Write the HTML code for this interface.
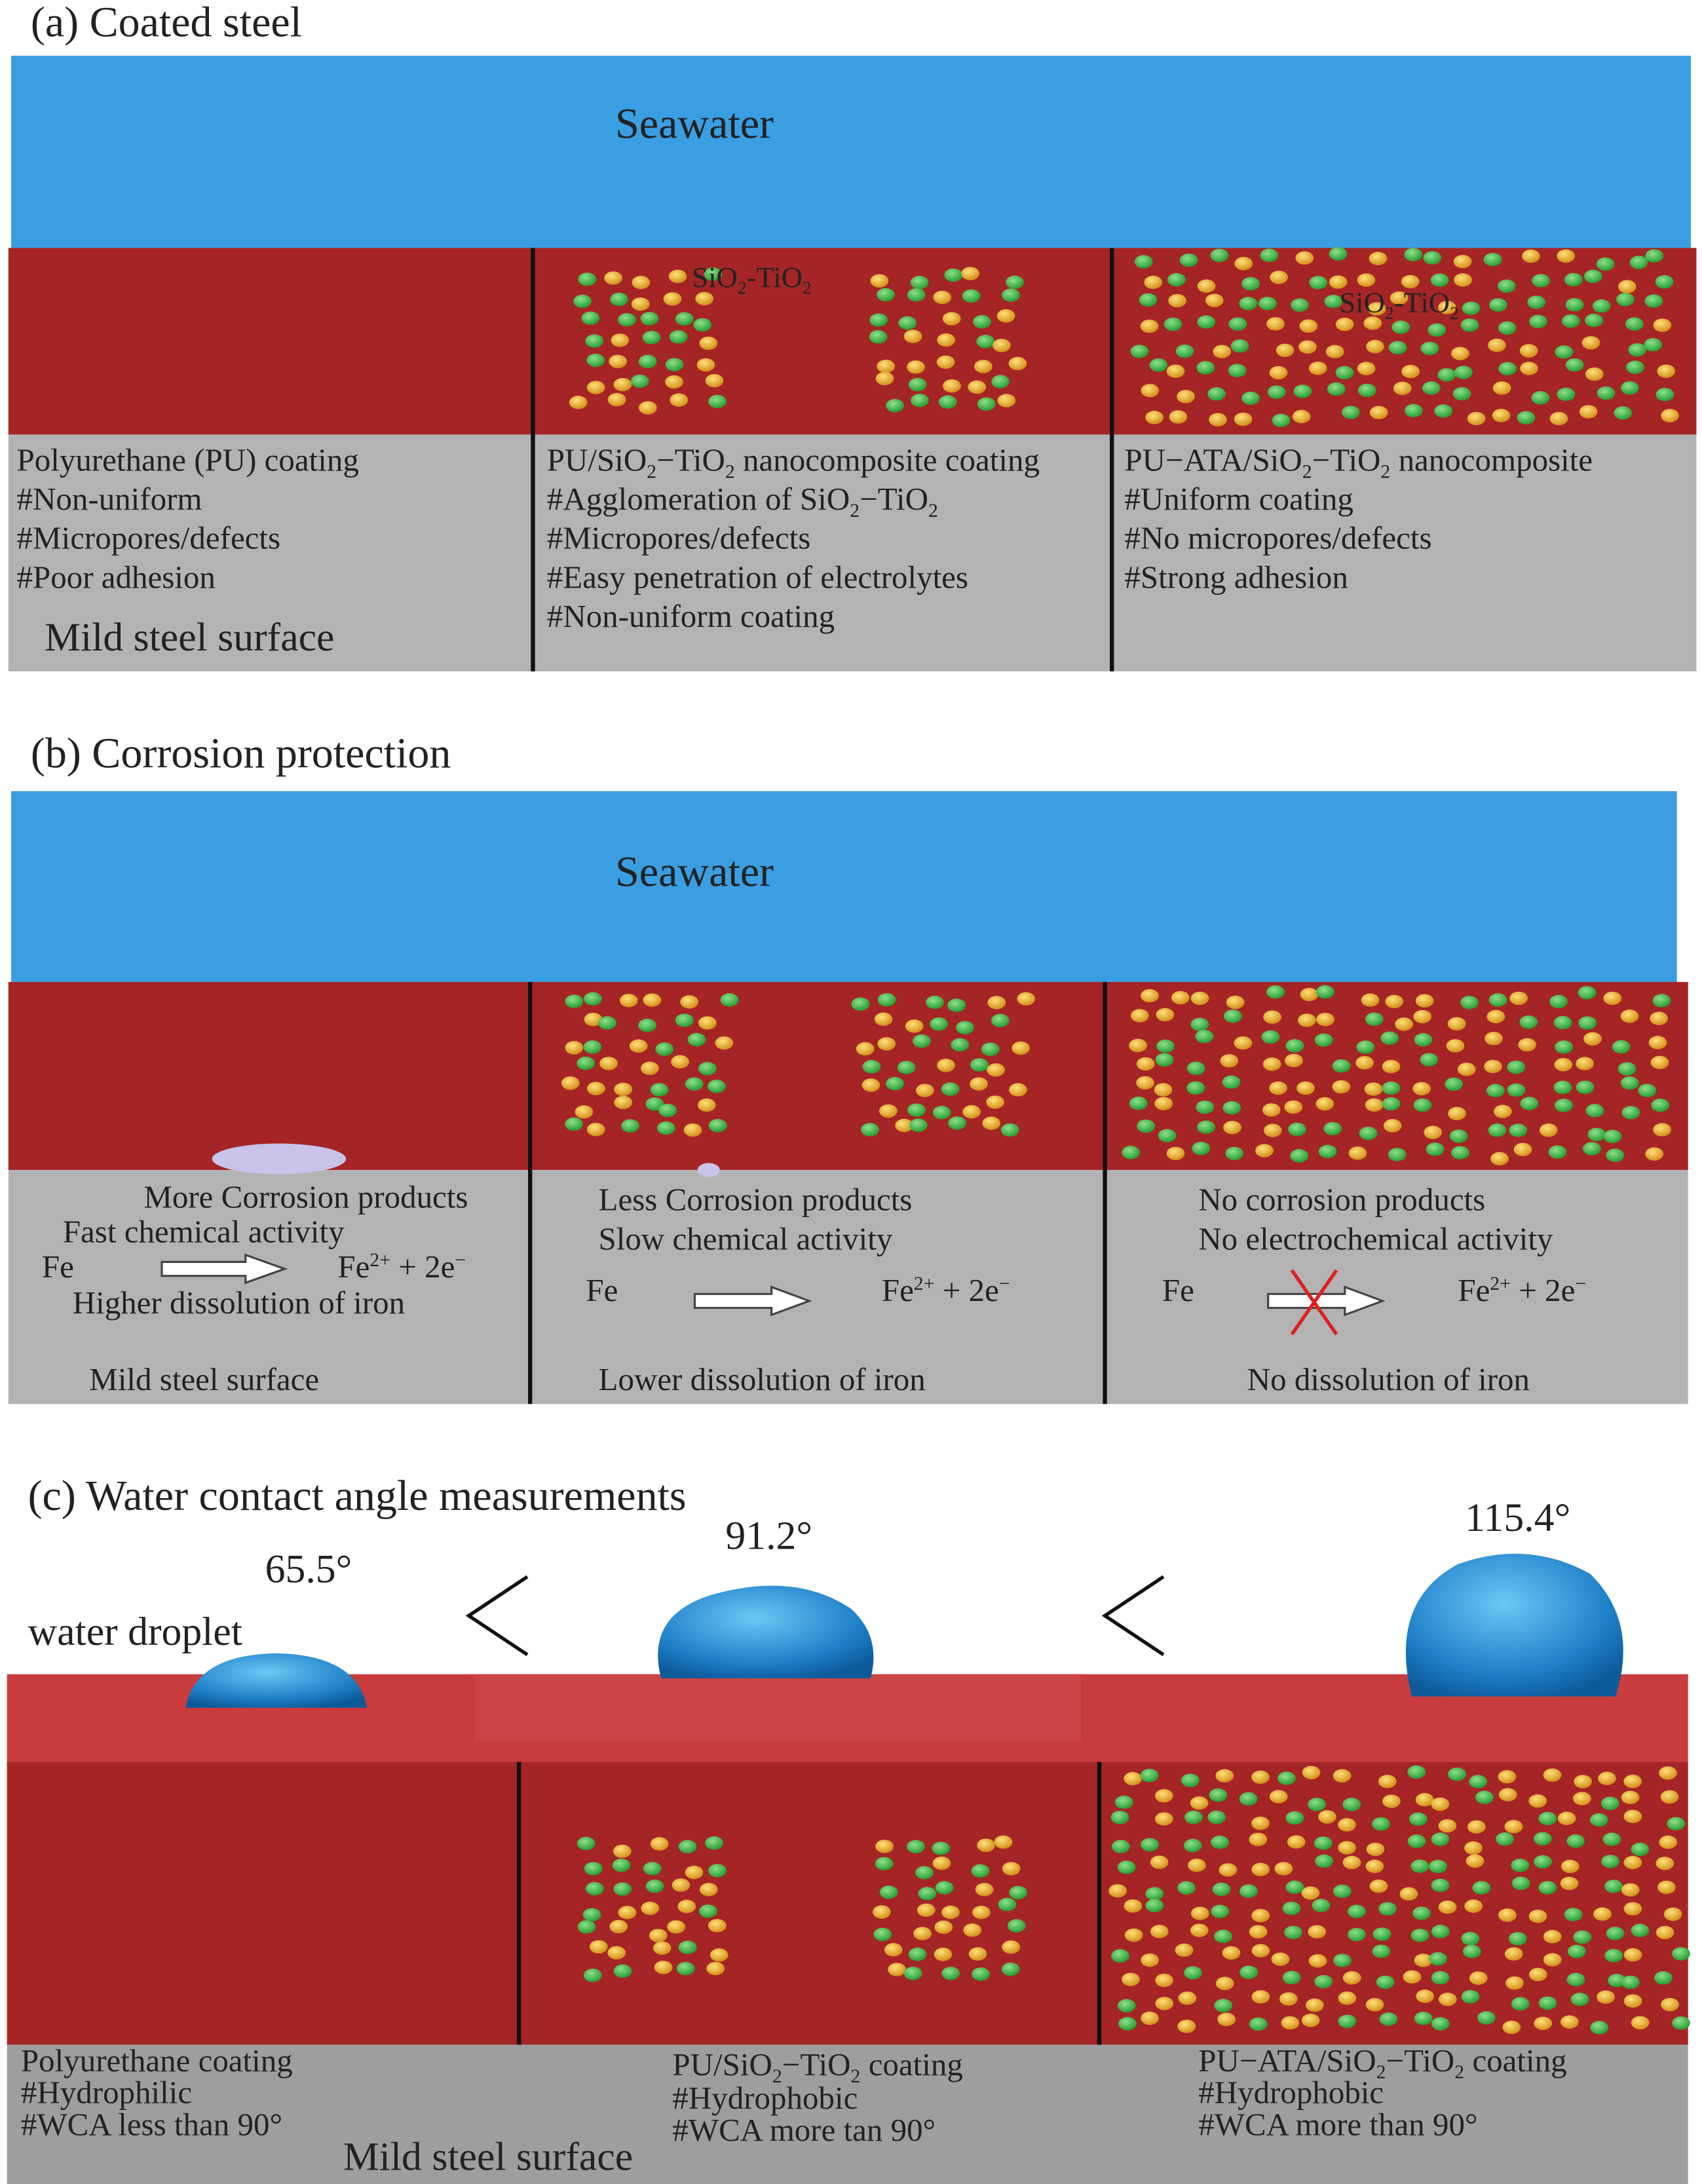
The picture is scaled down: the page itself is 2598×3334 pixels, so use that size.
<!DOCTYPE html>
<html><head><meta charset="utf-8"><style>
html,body{margin:0;padding:0;background:#fff}
svg{display:block}
text{font-family:"Liberation Serif",serif;fill:#222}
</style></head><body>
<svg id="s" width="2598" height="3334" viewBox="0 0 1220 1568" preserveAspectRatio="none" xmlns="http://www.w3.org/2000/svg">
<defs>
<radialGradient id="g" cx="0.4" cy="0.35" r="0.7"><stop offset="0" stop-color="#8fe08a"/><stop offset="1" stop-color="#1f9a2c"/></radialGradient>
<radialGradient id="y" cx="0.4" cy="0.35" r="0.7"><stop offset="0" stop-color="#ffe07a"/><stop offset="1" stop-color="#d08a10"/></radialGradient>
<radialGradient id="d" cx="0.45" cy="0.35" r="0.7"><stop offset="0" stop-color="#6cc8f5"/><stop offset="0.7" stop-color="#1e7fc8"/><stop offset="1" stop-color="#0d5a9a"/></radialGradient>
</defs>
<!-- (a) -->
<text x="22" y="26" font-size="31">(a) Coated steel</text>
<rect x="8" y="40" width="1204" height="138" fill="#3a9ee2"/>
<text x="441" y="99" font-size="31">Seawater</text>
<rect x="6" y="178" width="1210" height="134" fill="#a52526"/>
<rect x="6" y="312" width="1210" height="170" fill="#b3b3b3"/>
<line x1="382" y1="178" x2="382" y2="482" stroke="#111" stroke-width="3"/>
<line x1="797" y1="178" x2="797" y2="482" stroke="#111" stroke-width="3"/>
<g id="pa"></g>
<text x="496" y="206" font-size="21">SiO<tspan font-size="13" dy="5">2</tspan><tspan dy="-5">-TiO</tspan><tspan font-size="13" dy="5">2</tspan></text>
<text x="960" y="224" font-size="21">SiO<tspan font-size="13" dy="5">2</tspan><tspan dy="-5">-TiO</tspan><tspan font-size="13" dy="5">2</tspan></text>
<g font-size="23">
<text x="12" y="338">Polyurethane (PU) coating</text>
<text x="12" y="366">#Non-uniform</text>
<text x="12" y="394">#Micropores/defects</text>
<text x="12" y="422">#Poor adhesion</text>
<text x="392" y="338">PU/SiO<tspan font-size="14" dy="5">2</tspan><tspan dy="-5">−TiO</tspan><tspan font-size="14" dy="5">2</tspan><tspan dy="-5"> nanocomposite coating</tspan></text>
<text x="392" y="366">#Agglomeration of SiO<tspan font-size="14" dy="5">2</tspan><tspan dy="-5">−TiO</tspan><tspan font-size="14" dy="5">2</tspan></text>
<text x="392" y="394">#Micropores/defects</text>
<text x="392" y="422">#Easy penetration of electrolytes</text>
<text x="392" y="450">#Non-uniform coating</text>
<text x="806" y="338">PU−ATA/SiO<tspan font-size="14" dy="5">2</tspan><tspan dy="-5">−TiO</tspan><tspan font-size="14" dy="5">2</tspan><tspan dy="-5"> nanocomposite</tspan></text>
<text x="806" y="366">#Uniform coating</text>
<text x="806" y="394">#No micropores/defects</text>
<text x="806" y="422">#Strong adhesion</text>
</g>
<text x="32" y="467" font-size="29">Mild steel surface</text>
<!-- (b) -->
<text x="22" y="551" font-size="31">(b) Corrosion protection</text>
<rect x="8" y="568" width="1194" height="137" fill="#3a9ee2"/>
<text x="441" y="636" font-size="31">Seawater</text>
<rect x="6" y="705" width="1204" height="135" fill="#a52526"/>
<rect x="6" y="840" width="1204" height="168" fill="#b3b3b3"/>
<line x1="380" y1="705" x2="380" y2="1008" stroke="#111" stroke-width="3"/>
<line x1="792" y1="705" x2="792" y2="1008" stroke="#111" stroke-width="3"/>
<g id="pb"></g>
<ellipse cx="200" cy="832" rx="48" ry="11" fill="#c9c3ea"/>
<ellipse cx="508" cy="840" rx="8" ry="5" fill="#c9c3ea"/>
<g font-size="23">
<text x="103" y="867">More Corrosion products</text>
<text x="45" y="892">Fast chemical activity</text>
<text x="30" y="917">Fe</text>
<text x="242" y="917">Fe<tspan font-size="14" dy="-8">2+</tspan><tspan dy="8">  + 2e</tspan><tspan font-size="14" dy="-8">−</tspan></text>
<text x="52" y="943">Higher dissolution of iron</text>
<text x="64" y="998">Mild steel surface</text>
<text x="429" y="869">Less Corrosion products</text>
<text x="429" y="897">Slow chemical activity</text>
<text x="420" y="934">Fe</text>
<text x="632" y="934">Fe<tspan font-size="14" dy="-8">2+</tspan><tspan dy="8">  + 2e</tspan><tspan font-size="14" dy="-8">−</tspan></text>
<text x="429" y="998">Lower dissolution of iron</text>
<text x="859" y="869">No corrosion products</text>
<text x="859" y="897">No electrochemical activity</text>
<text x="833" y="934">Fe</text>
<text x="1045" y="934">Fe<tspan font-size="14" dy="-8">2+</tspan><tspan dy="8">  + 2e</tspan><tspan font-size="14" dy="-8">−</tspan></text>
<text x="894" y="998">No dissolution of iron</text>
</g>
<g fill="#fff" stroke="#444" stroke-width="1.5">
<path d="M116 906 h60 v-5 l28 10 l-28 10 v-5 h-60 z"/>
<path d="M498 929 h55 v-5 l27 10 l-27 10 v-5 h-55 z"/>
<path d="M909 929 h55 v-5 l27 10 l-27 10 v-5 h-55 z"/>
</g>
<g stroke="#e02020" stroke-width="2.5"><line x1="926" y1="912" x2="958" y2="958"/><line x1="958" y1="912" x2="926" y2="958"/></g>
<!-- (c) -->
<text x="20" y="1084" font-size="31">(c) Water contact angle measurements</text>
<text x="190" y="1136" font-size="29">65.5°</text>
<text x="520" y="1112" font-size="29">91.2°</text>
<text x="1050" y="1099" font-size="29">115.4°</text>
<text x="20" y="1181" font-size="29">water droplet</text>
<g fill="none" stroke="#111" stroke-width="2.5">
<polyline points="378,1132 336,1160 378,1188"/>
<polyline points="834,1132 792,1160 834,1188"/>
</g>
<rect x="5" y="1202" width="1205" height="65" fill="#c83c3e"/>
<rect x="340" y="1202" width="435" height="48" fill="#cc4446"/>
<rect x="5" y="1265" width="1205" height="203" fill="#a52526"/>
<rect x="5" y="1468" width="1205" height="100" fill="#9e9e9e"/>
<path d="M133 1226 Q140 1188 198 1187 Q256 1188 263 1226 Z" fill="url(#d)"/>
<path d="M474 1205 Q462 1160 510 1145 Q570 1128 610 1155 Q632 1175 624 1205 Z" fill="url(#d)"/>
<path d="M1012 1218 Q995 1150 1045 1123 Q1095 1105 1140 1130 Q1175 1165 1158 1218 Z" fill="url(#d)"/>
<line x1="372" y1="1265" x2="372" y2="1468" stroke="#111" stroke-width="3"/>
<line x1="788" y1="1265" x2="788" y2="1468" stroke="#111" stroke-width="3"/>
<g id="pc"></g>
<g font-size="23">
<text x="15" y="1487">Polyurethane coating</text>
<text x="15" y="1510">#Hydrophilic</text>
<text x="15" y="1533">#WCA less than 90°</text>
<text x="482" y="1490">PU/SiO<tspan font-size="14" dy="5">2</tspan><tspan dy="-5">−TiO</tspan><tspan font-size="14" dy="5">2</tspan><tspan dy="-5"> coating</tspan></text>
<text x="482" y="1514">#Hydrophobic</text>
<text x="482" y="1537">#WCA more tan 90°</text>
<text x="859" y="1487">PU−ATA/SiO<tspan font-size="14" dy="5">2</tspan><tspan dy="-5">−TiO</tspan><tspan font-size="14" dy="5">2</tspan><tspan dy="-5"> coating</tspan></text>
<text x="859" y="1510">#Hydrophobic</text>
<text x="859" y="1533">#WCA more than 90°</text>
</g>
<text x="246" y="1558" font-size="29">Mild steel surface</text>
</svg>
<script>
var seed=7;function r(){seed=(seed*9301+49297)%233280;return seed/233280;}
var NS="http://www.w3.org/2000/svg";
function fill(id,x0,y0,x1,y1,dx,dy){var g=document.getElementById(id);
for(var y=y0;y<=y1;y+=dy){for(var x=x0+((y/dy)%2?dx/2:0);x<=x1;x+=dx){
var e=document.createElementNS(NS,"ellipse");
e.setAttribute("cx",(x+(r()-0.5)*dx*0.6).toFixed(1));e.setAttribute("cy",(y+(r()-0.5)*dy*0.5).toFixed(1));
e.setAttribute("rx","6.5");e.setAttribute("ry","4.8");e.setAttribute("fill",r()<0.5?"url(#g)":"url(#y)");g.appendChild(e);}}}
fill("pa",410,200,522,290,22,15);fill("pa",624,200,736,292,22,15);fill("pa",812,186,1210,304,23,16);
fill("pb",408,720,522,810,22,15);fill("pb",620,720,736,812,22,15);fill("pb",806,716,1200,830,23,16);
fill("pc",414,1326,528,1416,22,15);fill("pc",626,1326,740,1416,22,15);fill("pc",796,1276,1202,1456,23,16);
</script>
</body></html>
